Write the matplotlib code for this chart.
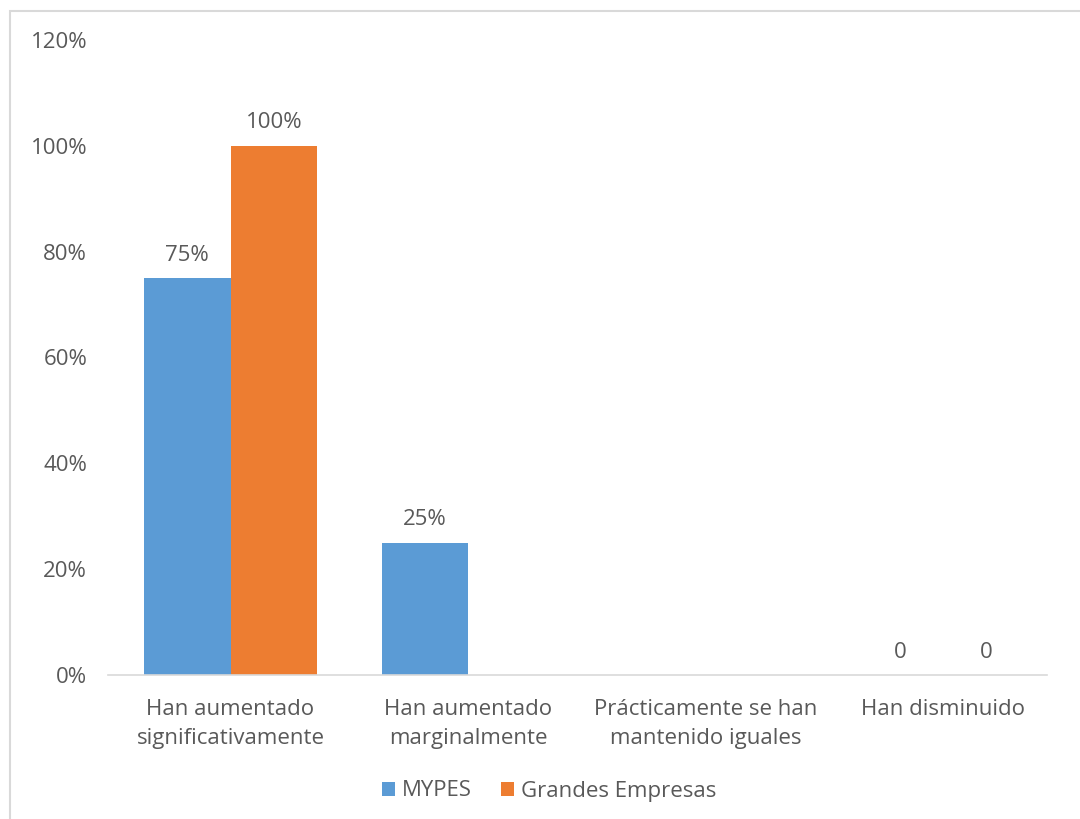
import numpy as np
import matplotlib
matplotlib.use("Agg")
import matplotlib.pyplot as plt
from matplotlib.patches import Rectangle

categories = ["Han aumentado\nsignificativamente", "Han aumentado\nmarginalmente",
              "Prácticamente se han\nmantenido iguales", "Han disminuido"]
series_names = ["MYPES", "Grandes Empresas"]
mypes = [0.75, 0.25, np.nan, 0.0]
grandes = [1.00, np.nan, np.nan, 0.0]
mypes_labels = ["75%", "25%", "", "0"]
grandes_labels = ["100%", "", "", "0"]
yticks = [0, 0.2, 0.4, 0.6, 0.8, 1.0, 1.2]
ytick_labels = ["0%", "20%", "40%", "60%", "80%", "100%", "120%"]

plt.rcParams['font.family'] = ['Open Sans', 'DejaVu Sans']
txt = '#595959'
fs = 16
W, H = 1080, 819
fig = plt.figure(figsize=(W/100, H/100), dpi=100)
fig.patches.append(Rectangle((10/W, -0.1), 1.2, 1 - 11/H + 0.1, transform=fig.transFigure,
                             fill=False, edgecolor='#d9d9d9', linewidth=1.5))

ax = fig.add_axes([108/W, 1 - 675/H, (1047-108)/W, (675-40)/H])
x = np.arange(len(categories))
bw = 0.364
b1 = ax.bar(x - bw/2, mypes, bw, color='#5B9BD5', label=series_names[0])
b2 = ax.bar(x + bw/2, grandes, bw, color='#ED7D31', label=series_names[1])
for i in range(len(categories)):
    if mypes_labels[i]:
        ax.annotate(mypes_labels[i], (x[i] - bw/2, np.nan_to_num(mypes[i])), xytext=(0, 9),
                    textcoords='offset points', ha='center', va='bottom', fontsize=fs, color=txt)
    if grandes_labels[i]:
        ax.annotate(grandes_labels[i], (x[i] + bw/2, np.nan_to_num(grandes[i])), xytext=(0, 9),
                    textcoords='offset points', ha='center', va='bottom', fontsize=fs, color=txt)

ax.set_xlim(-0.5156, 3.4356)
ax.set_ylim(0, 1.2)
ax.set_yticks(yticks)
ax.set_yticklabels(ytick_labels, fontsize=fs, color=txt)
ax.set_xticks(x)
ax.set_xticklabels(categories, fontsize=fs, color=txt, linespacing=1.55)
ax.tick_params(axis='both', length=0)
ax.tick_params(axis='y', pad=15)
ax.tick_params(axis='x', pad=17)
for s in ['top', 'right', 'left']:
    ax.spines[s].set_visible(False)
ax.spines['bottom'].set_color('#d9d9d9')
ax.spines['bottom'].set_linewidth(1.2)

leg = fig.legend(handles=[b1, b2], labels=series_names, loc='center', bbox_to_anchor=(549/W, 1 - 791/H),
                 ncol=2, frameon=False, fontsize=fs, handlelength=0.6, handleheight=0.6,
                 handletextpad=0.3, columnspacing=1.3)
for t in leg.get_texts():
    t.set_color(txt)

fig.savefig("out.png", dpi=100)
